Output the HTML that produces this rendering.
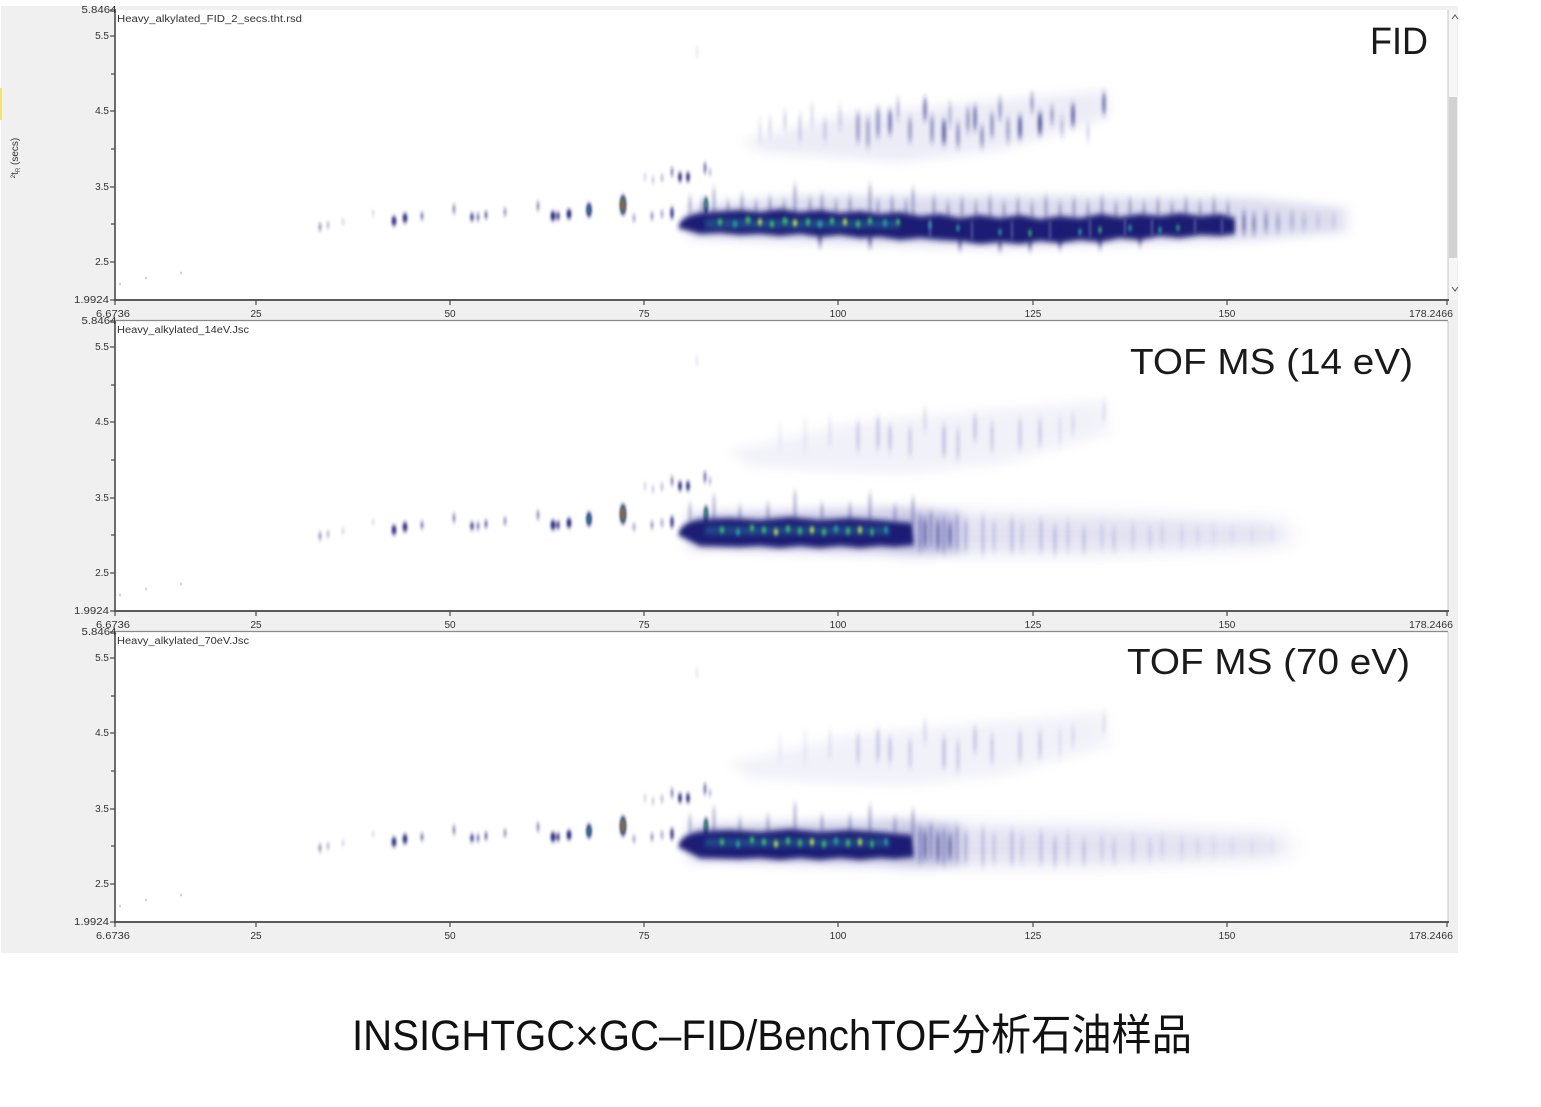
<!DOCTYPE html>
<html><head><meta charset="utf-8"><style>
html,body{margin:0;padding:0;background:#fff;}
svg{display:block;}
.t{font-family:"Liberation Sans",sans-serif;font-size:10px;fill:#333;}
.big{font-family:"Liberation Sans",sans-serif;fill:#1a1a1a;}
</style></head><body>
<svg width="1541" height="1107" viewBox="0 0 1541 1107" xmlns="http://www.w3.org/2000/svg">
<defs>
<filter id="b1" x="-50%" y="-50%" width="200%" height="200%"><feGaussianBlur stdDeviation="1.2 2.2"/></filter>
<filter id="b2" x="-50%" y="-50%" width="200%" height="200%"><feGaussianBlur stdDeviation="2.2 3"/></filter>
<filter id="b5" x="-50%" y="-50%" width="200%" height="200%"><feGaussianBlur stdDeviation="1.8 4"/></filter>
<filter id="b3" x="-20%" y="-50%" width="140%" height="200%"><feGaussianBlur stdDeviation="7 5"/></filter>
<filter id="b4" x="-20%" y="-50%" width="140%" height="200%"><feGaussianBlur stdDeviation="12 8"/></filter>

<g id="axes">
  <rect x="115" y="10" width="1333" height="290" fill="#fff"/>
  <line x1="1448" y1="10" x2="1448" y2="300" stroke="#c8c8c8" stroke-width="1"/>
  <line x1="115" y1="9" x2="115" y2="301" stroke="#4a4a4a" stroke-width="1.6"/>
  <line x1="114" y1="300" x2="1449" y2="300" stroke="#5a5a5a" stroke-width="2"/>
  <g stroke="#4a4a4a" stroke-width="1.2">
    <line x1="110" y1="10" x2="115" y2="10"/><line x1="110" y1="36" x2="115" y2="36"/>
    <line x1="111" y1="74" x2="115" y2="74"/><line x1="110" y1="111" x2="115" y2="111"/>
    <line x1="111" y1="149" x2="115" y2="149"/><line x1="110" y1="187" x2="115" y2="187"/>
    <line x1="111" y1="224" x2="115" y2="224"/><line x1="110" y1="262" x2="115" y2="262"/>
    <line x1="110" y1="300" x2="115" y2="300"/>
    <line x1="115" y1="300" x2="115" y2="305"/><line x1="256" y1="300" x2="256" y2="305"/>
    <line x1="450" y1="300" x2="450" y2="305"/><line x1="644" y1="300" x2="644" y2="305"/>
    <line x1="838" y1="300" x2="838" y2="305"/><line x1="1033" y1="300" x2="1033" y2="305"/>
    <line x1="1227" y1="300" x2="1227" y2="305"/><line x1="1447" y1="300" x2="1447" y2="305"/>
  </g>
  <g class="t" text-anchor="end">
    <text x="109" y="39">5.5</text><text x="109" y="114">4.5</text>
    <text x="109" y="190">3.5</text><text x="109" y="265">2.5</text>
    <text x="109" y="303" textLength="35" lengthAdjust="spacingAndGlyphs">1.9924</text>
  </g>
  <g class="t" text-anchor="middle">
    <text x="113" y="317" textLength="34" lengthAdjust="spacingAndGlyphs">6.6736</text>
    <text x="256" y="317">25</text><text x="450" y="317">50</text><text x="644" y="317">75</text>
    <text x="838" y="317">100</text><text x="1033" y="317">125</text><text x="1227" y="317">150</text>
    <text x="1431" y="317" textLength="44" lengthAdjust="spacingAndGlyphs">178.2466</text>
  </g>
  <g fill="#d0d0d8"><ellipse cx="120" cy="284" rx="1" ry="1.5"/><ellipse cx="146" cy="278" rx="1" ry="1.5"/><ellipse cx="181" cy="273" rx="1" ry="1.5"/></g>
</g>

<g id="early">
  <g fill="#1e1e78" filter="url(#b1)">
    <ellipse cx="320" cy="227" rx="1.5" ry="4" opacity=".5"/>
    <ellipse cx="328" cy="225" rx="1.2" ry="3.5" opacity=".4"/>
    <ellipse cx="343" cy="222" rx="1" ry="3" opacity=".3"/>
    <ellipse cx="373" cy="213" rx="1" ry="3" opacity=".25"/>
    <ellipse cx="394" cy="221" rx="2.5" ry="5" opacity=".9"/>
    <ellipse cx="405" cy="218" rx="2.5" ry="5" opacity=".9"/>
    <ellipse cx="422" cy="216" rx="1.5" ry="4" opacity=".6"/>
    <ellipse cx="454" cy="209" rx="1.5" ry="5" opacity=".5"/>
    <ellipse cx="472" cy="217" rx="2" ry="4" opacity=".8"/>
    <ellipse cx="478" cy="217" rx="1.5" ry="4" opacity=".6"/>
    <ellipse cx="486" cy="215" rx="1.5" ry="4" opacity=".7"/>
    <ellipse cx="505" cy="212" rx="1.5" ry="4" opacity=".5"/>
    <ellipse cx="538" cy="206" rx="1.5" ry="5" opacity=".5"/>
    <ellipse cx="553" cy="216" rx="2.5" ry="5" opacity=".95"/>
    <ellipse cx="558" cy="216" rx="2" ry="4" opacity=".8"/>
    <ellipse cx="569" cy="214" rx="2.5" ry="5" opacity=".95"/>
    <ellipse cx="589" cy="210" rx="2.8" ry="7" opacity=".95"/>
    <ellipse cx="623" cy="205" rx="3.2" ry="10" opacity=".95"/>
    <ellipse cx="634" cy="218" rx="1.5" ry="4" opacity=".4"/>
    <ellipse cx="652" cy="216" rx="1.5" ry="4" opacity=".5"/>
    <ellipse cx="662" cy="214" rx="1.5" ry="4" opacity=".4"/>
    <ellipse cx="672" cy="213" rx="2" ry="6" opacity=".8"/>
    <ellipse cx="645" cy="177" rx="1" ry="4" opacity=".25"/>
    <ellipse cx="653" cy="180" rx="1" ry="4" opacity=".3"/>
    <ellipse cx="662" cy="178" rx="1.2" ry="4" opacity=".35"/>
    <ellipse cx="672" cy="172" rx="1.3" ry="5" opacity=".6"/>
    <ellipse cx="680" cy="177" rx="2" ry="5" opacity=".9"/>
    <ellipse cx="688" cy="177" rx="2" ry="5" opacity=".9"/>
    <ellipse cx="705" cy="168" rx="1.5" ry="6" opacity=".6"/>
    <ellipse cx="710" cy="172" rx="1" ry="4" opacity=".4"/>
    <ellipse cx="706" cy="206" rx="2.2" ry="9" opacity=".95"/>
    <ellipse cx="697" cy="52" rx="1" ry="6" opacity=".12"/>
  </g>
  <ellipse cx="589" cy="210" rx="1.3" ry="4" fill="#2aa08a" filter="url(#b1)"/>
  <ellipse cx="623" cy="205" rx="2" ry="7" fill="#38b858" filter="url(#b1)"/>
  <ellipse cx="623" cy="205" rx="1.5" ry="4.5" fill="#d8322a" filter="url(#b1)"/>
  <ellipse cx="706" cy="204" rx="1.2" ry="5" fill="#3cbf6a" filter="url(#b1)"/>
</g>
</defs>

<rect x="0" y="0" width="1541" height="1107" fill="#fff"/>
<rect x="1" y="6" width="1457" height="947" fill="#f0f0f0"/>
<rect x="0" y="88" width="2" height="32" fill="#f2e27a"/>

<text class="t" font-size="9" transform="translate(18,158) rotate(-90)" text-anchor="middle"><tspan font-size="6" dy="-3">2</tspan><tspan dy="3">t</tspan><tspan font-size="6" dy="2">R</tspan><tspan dy="-2"> (secs)</tspan></text>

<!-- ============ PANEL 1 (FID) ============ -->
<use href="#axes"/>
<text class="t" x="99" y="13" text-anchor="middle" textLength="35" lengthAdjust="spacingAndGlyphs">5.8464</text>
<text class="t" x="117" y="22" font-size="9.5" textLength="185" lengthAdjust="spacingAndGlyphs">Heavy_alkylated_FID_2_secs.tht.rsd</text>
<rect x="1449" y="10" width="8" height="290" fill="#f6f6f6"/>
<rect x="1449" y="97" width="8" height="161" fill="#d2d2d2"/>
<path d="M1452,19 L1455,15 L1458,19" stroke="#555" fill="none" stroke-width="1"/>
<path d="M1452,287 L1455,291 L1458,287" stroke="#555" fill="none" stroke-width="1"/>

<g>
  <path d="M745,140 L850,114 L1000,100 L1105,90 L1108,118 L1000,150 L900,162 L760,152 Z" fill="#a6a6d8" opacity=".2" filter="url(#b3)"/>
  <g stroke="#2a2a80" stroke-linecap="round" filter="url(#b5)">
    <line x1="760" y1="120" x2="760" y2="140" stroke-width="2" opacity=".15"/>
    <line x1="770" y1="118" x2="770" y2="135" stroke-width="2" opacity=".2"/>
    <line x1="785" y1="112" x2="785" y2="128" stroke-width="2" opacity=".25"/>
    <line x1="800" y1="115" x2="800" y2="140" stroke-width="2" opacity=".25"/>
    <line x1="812" y1="105" x2="812" y2="125" stroke-width="2" opacity=".2"/>
    <line x1="825" y1="120" x2="825" y2="140" stroke-width="2" opacity=".25"/>
    <line x1="840" y1="108" x2="840" y2="128" stroke-width="2" opacity=".3"/>
    <line x1="858" y1="115" x2="858" y2="140" stroke-width="3" opacity=".5"/>
    <line x1="868" y1="120" x2="868" y2="145" stroke-width="3" opacity=".45"/>
    <line x1="878" y1="110" x2="878" y2="135" stroke-width="3" opacity=".55"/>
    <line x1="890" y1="112" x2="890" y2="132" stroke-width="3" opacity=".7"/>
    <line x1="898" y1="100" x2="898" y2="118" stroke-width="2" opacity=".45"/>
    <line x1="910" y1="120" x2="910" y2="140" stroke-width="3" opacity=".5"/>
    <line x1="925" y1="100" x2="925" y2="118" stroke-width="3" opacity=".7"/>
    <line x1="932" y1="118" x2="932" y2="140" stroke-width="3" opacity=".55"/>
    <line x1="944" y1="122" x2="944" y2="142" stroke-width="3.5" opacity=".8"/>
    <line x1="950" y1="105" x2="950" y2="125" stroke-width="2" opacity=".45"/>
    <line x1="958" y1="125" x2="958" y2="145" stroke-width="3" opacity=".55"/>
    <line x1="968" y1="110" x2="968" y2="130" stroke-width="3" opacity=".5"/>
    <line x1="975" y1="108" x2="975" y2="128" stroke-width="3" opacity=".7"/>
    <line x1="982" y1="128" x2="982" y2="145" stroke-width="3" opacity=".55"/>
    <line x1="992" y1="115" x2="992" y2="135" stroke-width="3" opacity=".55"/>
    <line x1="1000" y1="100" x2="1000" y2="118" stroke-width="2.5" opacity=".55"/>
    <line x1="1008" y1="120" x2="1008" y2="140" stroke-width="3" opacity=".45"/>
    <line x1="1020" y1="118" x2="1020" y2="136" stroke-width="3.5" opacity=".8"/>
    <line x1="1032" y1="95" x2="1032" y2="110" stroke-width="2.5" opacity=".55"/>
    <line x1="1040" y1="115" x2="1040" y2="132" stroke-width="3.5" opacity=".9"/>
    <line x1="1052" y1="108" x2="1052" y2="122" stroke-width="2.5" opacity=".55"/>
    <line x1="1062" y1="118" x2="1062" y2="135" stroke-width="2" opacity=".4"/>
    <line x1="1073" y1="106" x2="1073" y2="124" stroke-width="3" opacity=".85"/>
    <line x1="1088" y1="125" x2="1088" y2="140" stroke-width="2" opacity=".25"/>
    <line x1="1104" y1="95" x2="1104" y2="112" stroke-width="3" opacity=".75"/>
  </g>
  <path d="M690,206 L800,196 L1000,196 L1250,198 L1345,208 L1345,232 L1250,240 L1000,248 L800,242 L690,238 Z" fill="#8c8cc8" opacity=".3" filter="url(#b3)"/>
  <g stroke="#22227c" stroke-width="2.5" stroke-linecap="round" opacity=".4" filter="url(#b5)">
    <line x1="690" y1="198" x2="690" y2="214"/><line x1="702" y1="200" x2="702" y2="214"/><line x1="714" y1="190" x2="714" y2="214"/>
    <line x1="728" y1="202" x2="728" y2="214"/><line x1="742" y1="196" x2="742" y2="214"/><line x1="756" y1="202" x2="756" y2="214"/>
    <line x1="770" y1="198" x2="770" y2="214"/><line x1="784" y1="202" x2="784" y2="214"/><line x1="795" y1="186" x2="795" y2="214"/>
    <line x1="810" y1="200" x2="810" y2="214"/><line x1="822" y1="196" x2="822" y2="214"/><line x1="836" y1="202" x2="836" y2="214"/>
    <line x1="850" y1="198" x2="850" y2="214"/><line x1="870" y1="186" x2="870" y2="214"/><line x1="878" y1="202" x2="878" y2="216"/>
    <line x1="892" y1="198" x2="892" y2="216"/><line x1="906" y1="202" x2="906" y2="216"/><line x1="913" y1="190" x2="913" y2="216"/>
    <line x1="934" y1="198" x2="934" y2="218"/><line x1="948" y1="204" x2="948" y2="218"/><line x1="962" y1="200" x2="962" y2="218"/>
    <line x1="976" y1="204" x2="976" y2="218"/><line x1="990" y1="198" x2="990" y2="218"/><line x1="1004" y1="204" x2="1004" y2="218"/>
    <line x1="1018" y1="200" x2="1018" y2="218"/><line x1="1032" y1="204" x2="1032" y2="218"/><line x1="1046" y1="198" x2="1046" y2="218"/>
    <line x1="1060" y1="204" x2="1060" y2="218"/><line x1="1074" y1="200" x2="1074" y2="218"/><line x1="1088" y1="204" x2="1088" y2="218"/>
    <line x1="1102" y1="198" x2="1102" y2="218"/><line x1="1116" y1="204" x2="1116" y2="218"/><line x1="1130" y1="200" x2="1130" y2="216"/>
    <line x1="1144" y1="204" x2="1144" y2="216"/><line x1="1158" y1="200" x2="1158" y2="216"/><line x1="1172" y1="204" x2="1172" y2="216"/>
    <line x1="1186" y1="200" x2="1186" y2="216"/><line x1="1200" y1="204" x2="1200" y2="216"/><line x1="1214" y1="200" x2="1214" y2="216"/>
    <line x1="1228" y1="204" x2="1228" y2="216"/>
  </g>
  <path d="M678,228 C680,218 690,213 710,212 L740,210 L760,212 L780,209 L800,212 L820,210 L840,213 L860,211 L880,214 L900,212 L920,216 L940,214 L960,218 L980,215 L1000,218 L1020,215 L1040,219 L1060,216 L1080,218 L1100,214 L1120,217 L1140,214 L1160,216 L1180,213 L1200,216 L1220,214 L1235,218 L1235,234 L1220,236 L1200,235 L1180,238 L1160,236 L1140,240 L1120,238 L1100,242 L1080,240 L1060,243 L1040,241 L1020,244 L1000,242 L980,244 L960,241 L940,240 L920,238 L900,240 L880,237 L860,238 L840,235 L820,237 L800,234 L780,236 L760,234 L740,235 L720,233 L700,234 Z" fill="#1c1c74" filter="url(#b2)"/>
  <!-- light gaps for patchiness -->
  <g stroke="#8a8ac8" stroke-width="2.5" stroke-linecap="round" opacity=".45" filter="url(#b1)">
    <line x1="930" y1="220" x2="930" y2="236"/><line x1="972" y1="222" x2="972" y2="238"/><line x1="1012" y1="222" x2="1012" y2="238"/>
    <line x1="1050" y1="222" x2="1050" y2="238"/><line x1="1090" y1="220" x2="1090" y2="236"/><line x1="1125" y1="220" x2="1125" y2="234"/>
    <line x1="1152" y1="220" x2="1152" y2="234"/><line x1="1195" y1="220" x2="1195" y2="232"/><line x1="1222" y1="220" x2="1222" y2="232"/>
  </g>
  <g stroke="#1c1c74" stroke-width="3" stroke-linecap="round" opacity=".7" filter="url(#b5)">
    <line x1="820" y1="232" x2="820" y2="244"/><line x1="870" y1="234" x2="870" y2="245"/><line x1="960" y1="236" x2="960" y2="247"/>
    <line x1="1000" y1="238" x2="1000" y2="248"/><line x1="1030" y1="238" x2="1030" y2="248"/><line x1="1060" y1="236" x2="1060" y2="246"/>
    <line x1="1100" y1="236" x2="1100" y2="246"/><line x1="1140" y1="234" x2="1140" y2="243"/>
    <line x1="1244" y1="214" x2="1244" y2="232" opacity=".8"/><line x1="1254" y1="216" x2="1254" y2="232" opacity=".7"/>
    <line x1="1266" y1="214" x2="1266" y2="230" opacity=".6"/><line x1="1278" y1="216" x2="1278" y2="230" opacity=".45"/>
    <line x1="1292" y1="214" x2="1292" y2="228" opacity=".35"/><line x1="1304" y1="216" x2="1304" y2="228" opacity=".3"/>
    <line x1="1318" y1="216" x2="1318" y2="226" opacity=".2"/><line x1="1334" y1="216" x2="1334" y2="226" opacity=".15"/>
  </g>
  <path d="M705,219 L900,220 L900,228 L705,228 Z" fill="#2a7ea0" opacity=".5" filter="url(#b2)"/>
  <g filter="url(#b1)">
    <ellipse cx="720" cy="222" rx="2.5" ry="3" fill="#3cbf6a"/><ellipse cx="735" cy="224" rx="2.5" ry="3" fill="#2aa0a0"/>
    <ellipse cx="748" cy="220" rx="3" ry="3" fill="#3cbf6a"/><ellipse cx="760" cy="222" rx="2.5" ry="3" fill="#b8dc50"/>
    <ellipse cx="772" cy="224" rx="2.5" ry="3" fill="#3cbf6a"/><ellipse cx="785" cy="221" rx="3" ry="3" fill="#3cbf6a"/>
    <ellipse cx="795" cy="223" rx="2.5" ry="3" fill="#c4e04c"/><ellipse cx="808" cy="222" rx="2.5" ry="3" fill="#3cbf6a"/>
    <ellipse cx="820" cy="224" rx="3" ry="3" fill="#2aa0a0"/><ellipse cx="832" cy="221" rx="2.5" ry="3" fill="#3cbf6a"/>
    <ellipse cx="845" cy="222" rx="2.5" ry="3" fill="#b8dc50"/><ellipse cx="858" cy="224" rx="2.5" ry="3" fill="#3cbf6a"/>
    <ellipse cx="870" cy="221" rx="2.5" ry="3" fill="#3cbf6a"/><ellipse cx="885" cy="223" rx="2.5" ry="3" fill="#2aa0a0"/>
    <ellipse cx="898" cy="222" rx="2" ry="3" fill="#3cbf6a"/>
    <ellipse cx="930" cy="225" rx="2" ry="3" fill="#2a9aa0"/><ellipse cx="958" cy="228" rx="2" ry="3" fill="#2aa090"/>
    <ellipse cx="1000" cy="232" rx="2" ry="3" fill="#2a9aa0"/><ellipse cx="1030" cy="233" rx="2" ry="3" fill="#3cb070"/>
    <ellipse cx="1080" cy="232" rx="2" ry="3" fill="#2a9aa0"/><ellipse cx="1100" cy="230" rx="2" ry="3" fill="#3cb070"/>
    <ellipse cx="1130" cy="228" rx="2" ry="3" fill="#2a9aa0"/><ellipse cx="1160" cy="230" rx="2" ry="3" fill="#2a9aa0"/>
    <ellipse cx="1178" cy="228" rx="2" ry="2.5" fill="#3cb070"/>
  </g>
  <use href="#early"/>
</g>
<text class="big" x="1370" y="54" font-size="38" textLength="58" lengthAdjust="spacingAndGlyphs">FID</text>

<defs>
<g id="tof">
  <path d="M730,142 L850,114 L1000,100 L1105,92 L1108,125 L1000,155 L900,165 L750,158 Z" fill="#b8b8e0" opacity=".18" filter="url(#b3)"/>
  <g stroke="#6464b4" stroke-linecap="round" filter="url(#b5)">
    <line x1="780" y1="115" x2="780" y2="138" stroke-width="2" opacity=".15"/>
    <line x1="805" y1="112" x2="805" y2="140" stroke-width="2" opacity=".15"/>
    <line x1="830" y1="110" x2="830" y2="135" stroke-width="2" opacity=".2"/>
    <line x1="858" y1="115" x2="858" y2="140" stroke-width="3" opacity=".3"/>
    <line x1="878" y1="110" x2="878" y2="138" stroke-width="3" opacity=".35"/>
    <line x1="890" y1="118" x2="890" y2="140" stroke-width="3" opacity=".35"/>
    <line x1="910" y1="120" x2="910" y2="145" stroke-width="3" opacity=".3"/>
    <line x1="925" y1="100" x2="925" y2="120" stroke-width="2" opacity=".3"/>
    <line x1="944" y1="118" x2="944" y2="145" stroke-width="3" opacity=".4"/>
    <line x1="958" y1="122" x2="958" y2="148" stroke-width="3" opacity=".3"/>
    <line x1="975" y1="108" x2="975" y2="130" stroke-width="3" opacity=".35"/>
    <line x1="992" y1="115" x2="992" y2="140" stroke-width="3" opacity=".3"/>
    <line x1="1020" y1="112" x2="1020" y2="138" stroke-width="3" opacity=".3"/>
    <line x1="1040" y1="112" x2="1040" y2="135" stroke-width="3" opacity=".3"/>
    <line x1="1060" y1="110" x2="1060" y2="135" stroke-width="2" opacity=".2"/>
    <line x1="1073" y1="106" x2="1073" y2="125" stroke-width="2" opacity=".25"/>
    <line x1="1104" y1="92" x2="1104" y2="112" stroke-width="2" opacity=".25"/>
  </g>
  <path d="M900,204 L1100,206 L1285,214 L1285,236 L1100,244 L900,244 Z" fill="#a0a0d4" opacity=".3" filter="url(#b4)"/>
  <path d="M690,204 L900,198 L960,204 L960,244 L900,246 L690,240 Z" fill="#7a7ac0" opacity=".35" filter="url(#b3)"/>
  <g stroke="#4a4aa0" stroke-width="2.5" stroke-linecap="round" filter="url(#b5)">
    <line x1="920" y1="208" x2="920" y2="240" opacity=".6"/><line x1="931" y1="204" x2="931" y2="236" opacity=".5"/>
    <line x1="944" y1="210" x2="944" y2="242" opacity=".5"/><line x1="957" y1="206" x2="957" y2="240" opacity=".4"/>
    <line x1="966" y1="212" x2="966" y2="240" opacity=".35"/><line x1="983" y1="208" x2="983" y2="244" opacity=".3"/>
    <line x1="994" y1="214" x2="994" y2="240" opacity=".25"/><line x1="1012" y1="210" x2="1012" y2="242" opacity=".3"/>
    <line x1="1022" y1="216" x2="1022" y2="240" opacity=".22"/><line x1="1041" y1="212" x2="1041" y2="242" opacity=".28"/>
    <line x1="1055" y1="218" x2="1055" y2="244" opacity=".3"/><line x1="1068" y1="214" x2="1068" y2="240" opacity=".22"/>
    <line x1="1084" y1="220" x2="1084" y2="242" opacity=".28"/><line x1="1102" y1="216" x2="1102" y2="238" opacity=".2"/>
    <line x1="1114" y1="220" x2="1114" y2="240" opacity=".22"/><line x1="1133" y1="216" x2="1133" y2="238" opacity=".18"/>
    <line x1="1150" y1="220" x2="1150" y2="238" opacity=".18"/><line x1="1162" y1="216" x2="1162" y2="236" opacity=".14"/>
    <line x1="1182" y1="218" x2="1182" y2="236" opacity=".15"/><line x1="1198" y1="220" x2="1198" y2="234" opacity=".12"/>
    <line x1="1214" y1="218" x2="1214" y2="234" opacity=".1"/><line x1="1232" y1="220" x2="1232" y2="232" opacity=".09"/>
    <line x1="1252" y1="220" x2="1252" y2="232" opacity=".07"/><line x1="1272" y1="220" x2="1272" y2="230" opacity=".06"/>
  </g>
  <g stroke="#22227c" stroke-width="2.5" stroke-linecap="round" opacity=".38" filter="url(#b5)">
    <line x1="690" y1="196" x2="690" y2="212"/><line x1="714" y1="188" x2="714" y2="212"/><line x1="740" y1="198" x2="740" y2="212"/>
    <line x1="768" y1="196" x2="768" y2="212"/><line x1="795" y1="184" x2="795" y2="212"/><line x1="822" y1="196" x2="822" y2="212"/>
    <line x1="850" y1="196" x2="850" y2="212"/><line x1="870" y1="186" x2="870" y2="212"/><line x1="895" y1="198" x2="895" y2="212"/>
    <line x1="913" y1="190" x2="913" y2="214"/>
  </g>
  <path d="M678,226 C680,216 690,211 705,210 L730,209 L760,211 L790,208 L820,211 L850,209 L880,211 L912,214 L914,236 L895,238 L880,237 L860,239 L840,237 L820,239 L800,237 L780,239 L760,237 L740,238 L700,237 Z" fill="#1c1c74" filter="url(#b2)"/>
  <g stroke="#1c1c74" stroke-width="3" stroke-linecap="round" opacity=".55" filter="url(#b5)">
    <line x1="925" y1="212" x2="925" y2="236"/><line x1="938" y1="214" x2="938" y2="238"/><line x1="950" y1="216" x2="950" y2="236"/>
  </g>
  <path d="M705,217 L890,217 L890,226 L705,226 Z" fill="#2a7ea0" opacity=".45" filter="url(#b2)"/>
  <g filter="url(#b1)">
    <ellipse cx="722" cy="221" rx="2.5" ry="3" fill="#3cbf6a"/><ellipse cx="738" cy="223" rx="2.5" ry="3" fill="#2aa0a0"/>
    <ellipse cx="752" cy="219" rx="2.5" ry="3" fill="#3cbf6a"/><ellipse cx="764" cy="221" rx="2.5" ry="3" fill="#3cbf6a"/>
    <ellipse cx="776" cy="223" rx="2.5" ry="3" fill="#b8dc50"/><ellipse cx="788" cy="220" rx="2.5" ry="3" fill="#3cbf6a"/>
    <ellipse cx="800" cy="222" rx="2.5" ry="3" fill="#3cbf6a"/><ellipse cx="812" cy="221" rx="2.5" ry="3" fill="#c4e04c"/>
    <ellipse cx="824" cy="223" rx="2.5" ry="3" fill="#3cbf6a"/><ellipse cx="836" cy="220" rx="2.5" ry="3" fill="#2aa0a0"/>
    <ellipse cx="848" cy="222" rx="2.5" ry="3" fill="#3cbf6a"/><ellipse cx="860" cy="221" rx="2.5" ry="3" fill="#b8dc50"/>
    <ellipse cx="872" cy="223" rx="2" ry="3" fill="#3cbf6a"/><ellipse cx="886" cy="221" rx="2" ry="3" fill="#2aa0a0"/>
  </g>
  <use href="#early"/>
</g>
</defs>

<g transform="translate(0,311)">
  <use href="#axes"/>
  <line x1="115" y1="9.5" x2="1448" y2="9.5" stroke="#8a8a8a" stroke-width="1.2"/>
  <use href="#tof" transform="translate(0,-2)"/>
</g>
<text class="t" x="99" y="324" text-anchor="middle" textLength="35" lengthAdjust="spacingAndGlyphs">5.8464</text>
<text class="t" x="117" y="333" font-size="9.5" textLength="132" lengthAdjust="spacingAndGlyphs">Heavy_alkylated_14eV.Jsc</text>
<text class="big" x="1130" y="374" font-size="36" textLength="283" lengthAdjust="spacingAndGlyphs">TOF  MS (14 eV)</text>

<g transform="translate(0,622)">
  <use href="#axes"/>
  <line x1="115" y1="9.5" x2="1448" y2="9.5" stroke="#8a8a8a" stroke-width="1.2"/>
  <use href="#tof" transform="translate(0,-1)"/>
</g>
<text class="t" x="99" y="635" text-anchor="middle" textLength="35" lengthAdjust="spacingAndGlyphs">5.8464</text>
<text class="t" x="117" y="644" font-size="9.5" textLength="132" lengthAdjust="spacingAndGlyphs">Heavy_alkylated_70eV.Jsc</text>
<text class="big" x="1127" y="674" font-size="36" textLength="283" lengthAdjust="spacingAndGlyphs">TOF  MS (70 eV)</text>

<text x="352" y="1050" font-family="'Liberation Sans','Noto Sans CJK SC',sans-serif" font-size="43" fill="#111" textLength="840" lengthAdjust="spacingAndGlyphs">INSIGHTGC×GC–FID/BenchTOF分析石油样品</text>
</svg>
</body></html>
